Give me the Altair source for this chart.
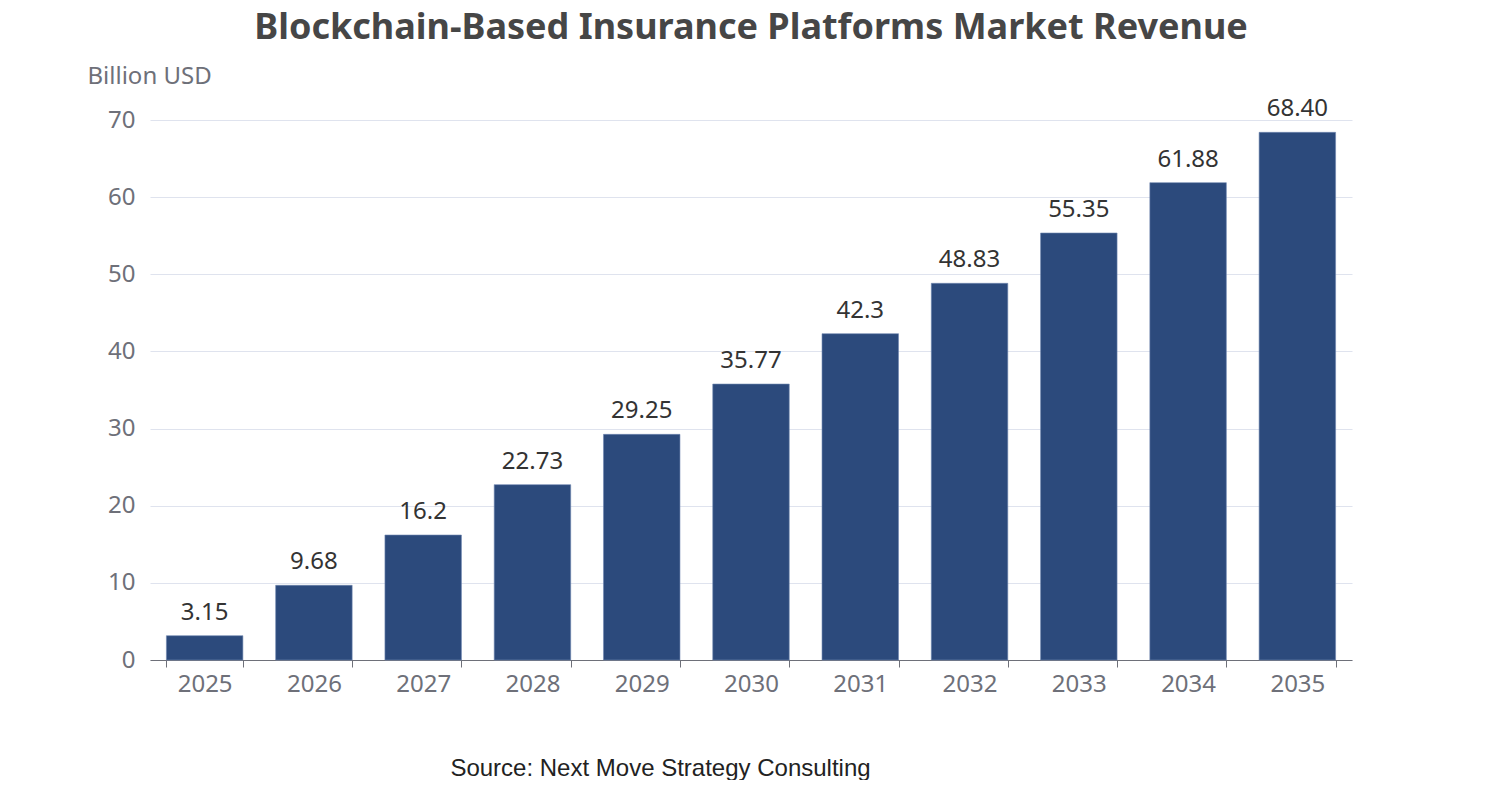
import altair as alt
import pandas as pd

years = ["2025", "2026", "2027", "2028", "2029", "2030", "2031", "2032", "2033", "2034", "2035"]
revenue = [3.15, 9.68, 16.2, 22.73, 29.25, 35.77, 42.3, 48.83, 55.35, 61.88, 68.40]
labels = ["3.15", "9.68", "16.2", "22.73", "29.25", "35.77", "42.3", "48.83", "55.35", "61.88", "68.40"]

df = pd.DataFrame({"year": years, "revenue": revenue, "label": labels})

FONT = "Noto Sans"
GRAY = "#6e7079"

base = alt.Chart(df)

x = alt.X(
    "year:N",
    sort=years,
    scale=alt.Scale(paddingInner=0.3, paddingOuter=0.15),
    axis=alt.Axis(
        title="Source: Next Move Strategy Consulting",
        titleFont="Liberation Sans",
        titleFontSize=24,
        titleFontWeight="normal",
        titleColor="#222222",
        titleX=510,
        titleY=115,
        titleAlign="center",
        titleBaseline="alphabetic",
        labelAngle=0,
        labelFont=FONT,
        labelFontSize=24,
        labelColor=GRAY,
        labelPadding=5,
        tickSize=7,
        tickColor=GRAY,
        tickBand="extent",
        domainColor=GRAY,
        grid=False,
    ),
)

bars = base.mark_bar(color="#2c4a7c", stroke="#6f86b0", strokeWidth=0.6).encode(
    x=x,
    y=alt.Y(
        "revenue:Q",
        scale=alt.Scale(domain=[0, 70]),
        axis=alt.Axis(
            title="Billion USD",
            titleFont=FONT,
            titleFontSize=24,
            titleFontWeight="normal",
            titleColor=GRAY,
            titleAngle=0,
            titleAlign="left",
            titleBaseline="alphabetic",
            titleX=-63,
            titleY=-37,
            values=[0, 10, 20, 30, 40, 50, 60, 70],
            labelFont=FONT,
            labelFontSize=24,
            labelColor=GRAY,
            labelPadding=15,
            tickSize=0,
            domain=False,
            gridColor="#dfe3ee",
            gridWidth=1,
        ),
    ),
)

text = base.mark_text(
    font=FONT, fontSize=24, color="#333333", baseline="alphabetic", dy=-16
).encode(x=alt.X("year:N", sort=years), y="revenue:Q", text="label:N")

chart = (
    alt.layer(bars, text)
    .properties(
        width=1202,
        height=540,
        padding={"left": 142, "top": 112, "right": 142, "bottom": 120},
        autosize="none",
        title=alt.TitleParams(
            "Blockchain-Based Insurance Platforms Market Revenue",
            font=FONT,
            fontSize=36,
            fontWeight="bold",
            color="#464646",
            anchor="middle",
            frame="group",
            offset=17,
        ),
    )
    .configure_view(stroke=None)
)

chart.save("out.html", embed_options={"renderer": "svg", "actions": False})
